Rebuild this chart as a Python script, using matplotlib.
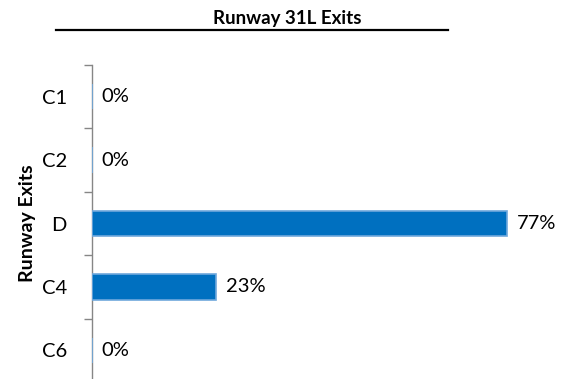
import matplotlib.pyplot as plt
from matplotlib.lines import Line2D

# exit usage share on runway 31L
exits = ['C1', 'C2', 'D', 'C4', 'C6']
share_pct = [0, 0, 77, 23, 0]

plt.rcParams['font.family'] = ['Lato', 'DejaVu Sans']

fig = plt.figure(figsize=(5.77, 3.79), dpi=100)
ax = fig.add_axes([0.1594, -0.008, 0.8406, 0.8365])

pos = list(range(len(exits)))
# bars above the spine so the zero-width ones still show as a sliver
ax.barh(pos, share_pct, height=0.4, color='#0070C0',
        edgecolor='#6FA8DC', linewidth=1.2, zorder=3)

for y, v in zip(pos, share_pct):
    ax.annotate(f'{v}%', (v, y), xytext=(7, 0), textcoords='offset points',
                va='center', ha='left', fontsize=14.5, color='black')

ax.set_xlim(0, 90)
ax.set_ylim(len(exits) - 0.5, -0.5)

# category labels centred, tick marks between categories
ax.set_yticks(pos)
ax.set_yticklabels(exits, fontsize=14.5)
ax.tick_params(axis='y', which='major', length=0, pad=18)
ax.set_yticks([p - 0.5 for p in pos] + [len(exits) - 0.5], minor=True)
ax.tick_params(axis='y', which='minor', length=6, width=1, color='#868686',
               direction='out')
ax.set_xticks([])

for side in ['top', 'right', 'bottom']:
    ax.spines[side].set_visible(False)
ax.spines['left'].set_color('#868686')
ax.spines['left'].set_linewidth(1)

ax.set_ylabel('Runway Exits', fontsize=14, fontweight='bold', labelpad=4)

fig.text(0.4974, 0.952, 'Runway 31L Exits', ha='center', va='center',
         fontsize=13.5, fontweight='bold')
fig.add_artist(Line2D([56 / 577, 448 / 577], [1 - 30 / 379, 1 - 30 / 379],
                      color='black', linewidth=1.6))

fig.savefig('out.png', dpi=100)
